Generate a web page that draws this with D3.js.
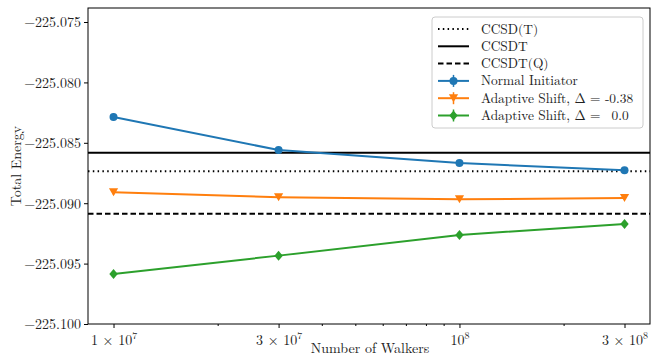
<!DOCTYPE html>
<html><head><meta charset="utf-8">
<script src="https://cdn.jsdelivr.net/npm/d3@7"></script>
<style>body{margin:0;background:#fff}svg{display:block}</style>
</head><body><svg id="c" width="652" height="356"></svg>
<script>
const walkers = [1e7, 3e7, 1e8, 3e8];
const normalInit = [-225.08286, -225.08560, -225.08667, -225.08728];
const normalErr = [0.00030, 0.00012, 0.00010, 0.00008];
const shiftNeg = [-225.08910, -225.08951, -225.08968, -225.08957];
const shiftNegErr = [0.00020, 0.00015, 0.00010, 0.00015];
const shiftZero = [-225.09586, -225.09434, -225.09263, -225.09172];
const shiftZeroErr = [0.00012, 0.00010, 0.00008, 0.00010];
const refNames = ["CCSD(T)", "CCSDT", "CCSDT(Q)"];
const refValues = [-225.08736, -225.08582, -225.09087];
const yTicks = [-225.075, -225.080, -225.085, -225.090, -225.095, -225.100];
const xTickVals = [1e7, 3e7, 1e8, 3e8];
const xTickLabels = [["1 × 10", "7"], ["3 × 10", "7"], ["10", "8"], ["3 × 10", "8"]];

const FONT = "'Latin Modern Roman', 'CMU Serif', 'Liberation Serif', serif";
const svg = d3.select("#c");
const L = 88, R = 650, T = 8, B = 324;
const x = d3.scaleLog().domain([Math.pow(10, 6.9262), Math.pow(10, 8.5508)]).range([L, R]);
const y = d3.scaleLinear().domain([-225.1000, -225.07384]).range([B, T]);

// y axis
const ya = svg.append("g").attr("transform", `translate(${L},0)`)
  .call(d3.axisLeft(y).tickValues(yTicks).tickSize(4).tickPadding(3)
    .tickFormat(d => "\u2212" + d3.format(".3f")(-d)));
ya.select(".domain").remove();
ya.selectAll("text").attr("font-size", 14).attr("dy", "0.35em").style("font-family", FONT).attr("fill", "#222");

// x axis minor ticks
const minor = [2e7,4e7,5e7,6e7,7e7,8e7,9e7,2e8];
const xa = svg.append("g").attr("transform", `translate(0,${B})`);
xa.call(d3.axisBottom(x).tickValues(minor).tickSize(2).tickFormat(""));
xa.select(".domain").remove();
const xb = svg.append("g").attr("transform", `translate(0,${B})`);
xb.call(d3.axisBottom(x).tickValues(xTickVals).tickSize(4).tickFormat(""));
xb.select(".domain").remove();
xb.selectAll(".tick").each(function(d, i) {
  const t = d3.select(this).append("text").attr("y", 21).attr("text-anchor", "middle")
    .attr("font-size", 14).style("font-family", FONT).attr("fill", "#222");
  t.append("tspan").text(xTickLabels[i][0]);
  t.append("tspan").text(xTickLabels[i][1]).attr("font-size", 10).attr("dy", -6);
});
svg.selectAll(".tick line").attr("stroke", "#000");

// reference lines
const dashes = ["1.5,3.3", null, "5.5,3"];
refValues.forEach((v, i) => {
  svg.append("line").attr("x1", L).attr("x2", R).attr("y1", y(v)).attr("y2", y(v))
    .attr("stroke", "#000").attr("stroke-width", 2).attr("stroke-dasharray", dashes[i]);
});

const series = [
  {vals: normalInit, err: normalErr, color: "#1f77b4", marker: "circle"},
  {vals: shiftNeg, err: shiftNegErr, color: "#ff7f0e", marker: "tri"},
  {vals: shiftZero, err: shiftZeroErr, color: "#2ca02c", marker: "diamond"}
];
function drawMarker(g, type, cx, cy, color) {
  if (type === "circle") g.append("circle").attr("cx", cx).attr("cy", cy).attr("r", 4).attr("fill", color);
  else if (type === "tri") g.append("path").attr("d", `M${cx-4.6},${cy-4}L${cx+4.6},${cy-4}L${cx},${cy+4}Z`).attr("fill", color);
  else g.append("path").attr("d", `M${cx},${cy-5}L${cx+4.2},${cy}L${cx},${cy+5}L${cx-4.2},${cy}Z`).attr("fill", color);
}
const line = d3.line().x(d => x(d[0])).y(d => y(d[1]));
series.forEach(s => {
  const g = svg.append("g");
  g.append("path").attr("d", line(walkers.map((w, i) => [w, s.vals[i]])))
    .attr("fill", "none").attr("stroke", s.color).attr("stroke-width", 2);
  walkers.forEach((w, i) => {
    g.append("line").attr("x1", x(w)).attr("x2", x(w)).attr("y1", y(s.vals[i] - s.err[i])).attr("y2", y(s.vals[i] + s.err[i]))
      .attr("stroke", s.color).attr("stroke-width", 1.5);
    drawMarker(g, s.marker, x(w), y(s.vals[i]), s.color);
  });
});

// frame
svg.append("rect").attr("x", L).attr("y", T).attr("width", R - L).attr("height", B - T)
  .attr("fill", "none").attr("stroke", "#000").attr("stroke-width", 1);

// legend
const lg = svg.append("g");
lg.append("rect").attr("x", 432).attr("y", 17).attr("width", 211).attr("height", 111).attr("rx", 3)
  .attr("fill", "#fff").attr("fill-opacity", 0.8).attr("stroke", "#ccc");
const legendNames = refNames.concat(["Normal Initiator", "Adaptive Shift, \u0394 = -0.38", "Adaptive Shift, \u0394 =\u00a0 0.0"]);
legendNames.forEach((name, i) => {
  const cy = 29 + i * 17.3;
  if (i < 3) {
    lg.append("line").attr("x1", 438).attr("x2", 469).attr("y1", cy).attr("y2", cy)
      .attr("stroke", "#000").attr("stroke-width", 2).attr("stroke-dasharray", dashes[i]);
  } else {
    const s = series[i - 3];
    lg.append("line").attr("x1", 438).attr("x2", 469).attr("y1", cy).attr("y2", cy).attr("stroke", s.color).attr("stroke-width", 2);
    lg.append("line").attr("x1", 453.5).attr("x2", 453.5).attr("y1", cy - 6).attr("y2", cy + 6).attr("stroke", s.color).attr("stroke-width", 1.5);
    drawMarker(lg, s.marker, 453.5, cy, s.color);
  }
  lg.append("text").attr("x", 481).attr("y", cy + 4.5).attr("font-size", 13.4).style("font-family", FONT).attr("fill", "#222").text(name);
});

// axis labels
svg.append("text").attr("x", (L + R) / 2 + 1).attr("y", 353).attr("text-anchor", "middle").attr("font-size", 14).style("font-family", FONT).attr("fill", "#222").text("Number of Walkers");
svg.append("text").attr("transform", `translate(21,${(T + B) / 2}) rotate(-90)`).attr("text-anchor", "middle").attr("font-size", 14).style("font-family", FONT).attr("fill", "#222").text("Total Energy");
</script></body></html>
